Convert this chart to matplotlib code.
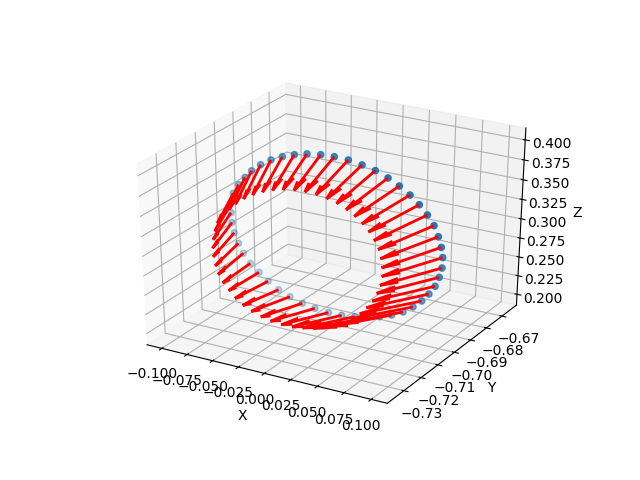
import matplotlib
matplotlib.use("Agg")
import matplotlib.pyplot as plt
import numpy as np

ring_x = [-0.0296, -0.0167, -0.0039, 0.0092, 0.0220, 0.0345, 0.0464, 0.0572, 0.0674, 0.0764,
          0.0843, 0.0909, 0.0956, 0.0990, 0.1009, 0.1010, 0.0992, 0.0959, 0.0909, 0.0847,
          0.0770, 0.0681, 0.0577, 0.0465, 0.0352, 0.0228, 0.0103, -0.0027, -0.0158, -0.0283,
          -0.0406, -0.0520, -0.0627, -0.0719, -0.0807, -0.0879, -0.0931, -0.0973, -0.0999, -0.1011,
          -0.1006, -0.0992, -0.0942, -0.0881, -0.0818, -0.0733, -0.0635, -0.0528, -0.0415]
ring_y = [-0.6979, -0.6979, -0.6979, -0.6979, -0.6979, -0.6980, -0.6981, -0.6983, -0.6985, -0.6987,
          -0.6989, -0.6991, -0.6994, -0.6997, -0.6999, -0.7002, -0.7005, -0.7007, -0.7010, -0.7012,
          -0.7014, -0.7016, -0.7018, -0.7019, -0.7020, -0.7021, -0.7021, -0.7021, -0.7021, -0.7020,
          -0.7019, -0.7018, -0.7016, -0.7014, -0.7012, -0.7010, -0.7007, -0.7005, -0.7002, -0.6999,
          -0.6997, -0.6994, -0.6991, -0.6989, -0.6987, -0.6985, -0.6983, -0.6981, -0.6980]
ring_z = [0.3940, 0.3964, 0.3973, 0.3967, 0.3940, 0.3905, 0.3848, 0.3781, 0.3701, 0.3609,
          0.3507, 0.3396, 0.3276, 0.3156, 0.3036, 0.2909, 0.2789, 0.2668, 0.2557, 0.2451,
          0.2353, 0.2262, 0.2192, 0.2137, 0.2094, 0.2065, 0.2044, 0.2039, 0.2055, 0.2082,
          0.2131, 0.2188, 0.2264, 0.2353, 0.2443, 0.2551, 0.2664, 0.2788, 0.2908, 0.3030,
          0.3157, 0.3278, 0.3399, 0.3505, 0.3603, 0.3699, 0.3781, 0.3848, 0.3901]

fig = plt.figure()
ax = fig.add_subplot(projection="3d")
# stretch the box to the whole axes rectangle instead of keeping it square
ax.apply_aspect = lambda position=None: None
ax.set_box_aspect((1, 1, 1), zoom=0.94)

x = np.array(ring_x)
y = np.array(ring_y)
z = np.array(ring_z)

# arrows lean inwards and back along -y
u = -0.0062 - 0.21 * x
v = -0.0182 + 0.052 * (z - 0.3)
w = -0.004 - 0.24 * (z - 0.3)

ax.scatter(x, y, z)
ax.quiver(x, y, z, u, v, w, color="red", linewidth=2)

ax.set_xlim(-0.1147, 0.1147)
ax.set_ylim(-0.7395, -0.6605)
ax.set_zlim(0.1853, 0.4147)
ax.set_xlabel("X")
ax.set_ylabel("Y")
ax.set_zlabel("Z")

fig.savefig("out.png")
